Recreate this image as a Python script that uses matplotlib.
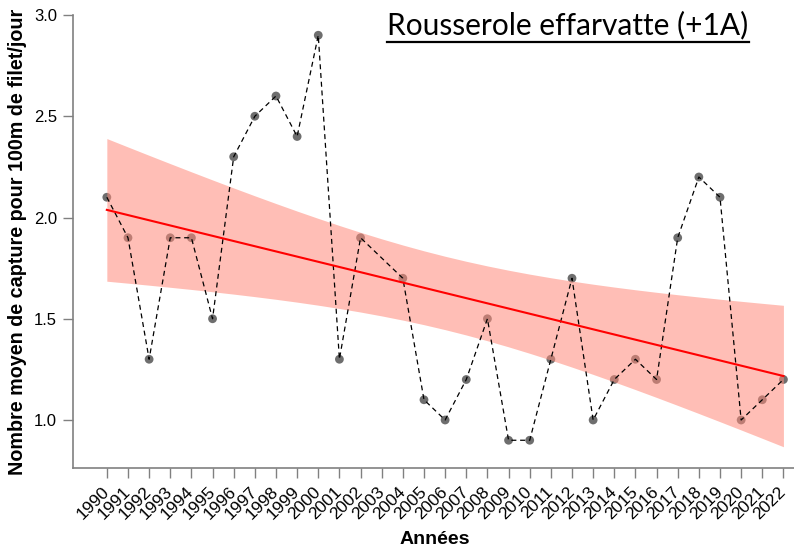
import numpy as np
import matplotlib
matplotlib.use("Agg")
import matplotlib.pyplot as plt
import matplotlib.transforms as mtransforms
from matplotlib.lines import Line2D

# data (2003 missing)
years = [1990, 1991, 1992, 1993, 1994, 1995, 1996, 1997, 1998, 1999, 2000, 2001,
         2002, 2003, 2004, 2005, 2006, 2007, 2008, 2009, 2010, 2011, 2012, 2013,
         2014, 2015, 2016, 2017, 2018, 2019, 2020, 2021, 2022]
captures = [2.1, 1.9, 1.3, 1.9, 1.9, 1.5, 2.3, 2.5, 2.6, 2.4, 2.9, 1.3,
            1.9, np.nan, 1.7, 1.1, 1.0, 1.2, 1.5, 0.9, 0.9, 1.3, 1.7, 1.0,
            1.2, 1.3, 1.2, 1.9, 2.2, 2.1, 1.0, 1.1, 1.2]
year_labels = [str(y) for y in years]
yticks = [1.0, 1.5, 2.0, 2.5, 3.0]

x = np.array(years, dtype=float)
y = np.array(captures, dtype=float)
ok = ~np.isnan(y)

# linear fit + 95% confidence band
slope, icpt = np.polyfit(x[ok], y[ok], 1)
n = ok.sum()
resid = y[ok] - (slope * x[ok] + icpt)
s = np.sqrt(np.sum(resid ** 2) / (n - 2))
tcrit = 2.042
xm = x[ok].mean()
sxx = np.sum((x[ok] - xm) ** 2)
fit = slope * x + icpt
half = tcrit * s * np.sqrt(1.0 / n + (x - xm) ** 2 / sxx)

fig = plt.figure(figsize=(7.94, 5.51), dpi=100)
ax = fig.add_axes([73 / 794, 83 / 551, 721 / 794, 453 / 551])

ax.scatter(x[ok], y[ok], s=40, color="#4a4a4a", alpha=0.8, zorder=2, edgecolors="none")
ax.fill_between(x, fit - half, fit + half, color="#ff8a7a", alpha=0.55, lw=0, zorder=3)
ax.plot(x[ok], y[ok], ls=(0, (4, 3)), color="black", lw=0.9, zorder=4)
ax.plot(x, fit, color="#ff0000", lw=1.5, zorder=5)

ax.set_xlim(1988.4, 2022.5)
ax.set_ylim(0.763, 3.0)
ax.set_xticks(years)
ax.set_xticklabels(year_labels, rotation=45, ha="right", va="center",
                   rotation_mode="anchor", fontsize=12.5, family="Liberation Sans")
shift = mtransforms.ScaledTranslation(4 / 100, 0, fig.dpi_scale_trans)
for lab in ax.get_xticklabels():
    lab.set_transform(lab.get_transform() + shift)
ax.set_yticks(yticks)
ax.set_yticklabels(["%.1f" % v for v in yticks], fontsize=12, family="Liberation Sans")
for sp in ["top", "right"]:
    ax.spines[sp].set_visible(False)
for sp in ["left", "bottom"]:
    ax.spines[sp].set_color("#808080")
    ax.spines[sp].set_linewidth(1.2)
ax.tick_params(axis="both", length=7.5, width=1, color="#808080", direction="out")
ax.tick_params(axis="x", pad=8)
ax.tick_params(axis="y", pad=4)

fig.text(435 / 794, 1 - 540 / 551, "Années", ha="center", va="center",
         fontsize=14, fontweight="bold", family="Liberation Sans")
fig.text(18 / 794, 1 - 242 / 551, "Nombre moyen de capture pour 100m de filet/jour",
         rotation=90, ha="center", va="center", fontsize=14.2, fontweight="bold",
         family="Liberation Sans")

title = fig.text(568 / 794, 1 - 25 / 551, "Rousserole effarvatte (+1A)", ha="center",
                 va="center", fontsize=21.5, family="Lato")
fig.canvas.draw()
bb = title.get_window_extent(renderer=fig.canvas.get_renderer())
uy = (bb.y0 - 3) / fig.bbox.height
fig.add_artist(Line2D([bb.x0 / fig.bbox.width, bb.x1 / fig.bbox.width], [uy, uy],
                      color="black", lw=1.6, transform=fig.transFigure))

fig.savefig("out.png", dpi=100)
